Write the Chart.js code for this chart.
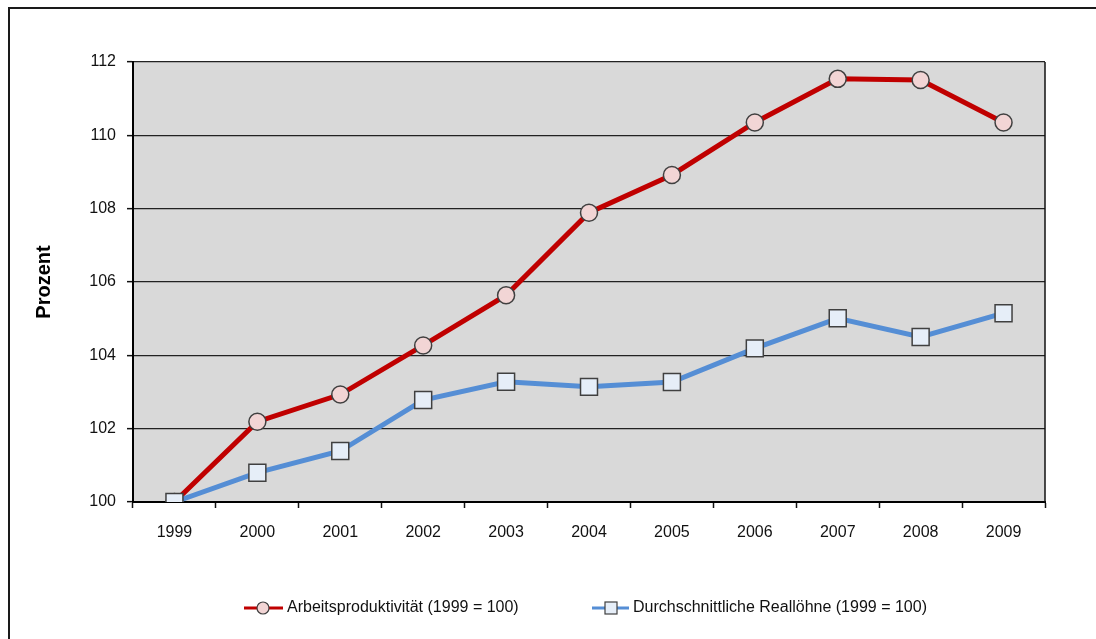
<!DOCTYPE html>
<html>
<head>
<meta charset="utf-8">
<script src="https://cdn.jsdelivr.net/npm/chart.js@4/dist/chart.umd.min.js"></script>
<style>
  body { margin: 0; background: #fff; }
</style>
</head>
<body>
<canvas id="chart" width="1096" height="639"></canvas>
<script>
// ----------- Data -----------
const years = ["1999","2000","2001","2002","2003","2004","2005","2006","2007","2008","2009"];
const produktivitaet = [100, 102.19, 102.93, 104.27, 105.64, 107.89, 108.92, 110.35, 111.54, 111.51, 110.35];
const reallohne = [100, 100.80, 101.39, 102.78, 103.28, 103.14, 103.27, 104.19, 105.01, 104.50, 105.15];
const yTicks = [100, 102, 104, 106, 108, 110, 112];

const labelProd = "Arbeitsproduktivität (1999 = 100)";
const labelLohn = "Durchschnittliche Reallöhne (1999 = 100)";

const FONT = "Liberation Sans, Arial, sans-serif";

// ----------- Frame, plot background, legend -----------
const decor = {
    id: "decor",
    beforeDraw(chart) {
        const { ctx, chartArea: a } = chart;
        ctx.save();
        ctx.fillStyle = "#d9d9d9";
        ctx.fillRect(a.left, a.top, a.right - a.left, a.bottom - a.top);
        ctx.restore();
    },
    afterDatasetsDraw(chart) {
        const { ctx, chartArea: a } = chart;
        ctx.save();
        // right edge of plot
        ctx.strokeStyle = "#111";
        ctx.lineWidth = 1.5;
        ctx.beginPath();
        ctx.moveTo(a.right, a.top);
        ctx.lineTo(a.right, a.bottom);
        ctx.stroke();
        // outer frame
        ctx.strokeStyle = "#1a1a1a";
        ctx.lineWidth = 2;
        ctx.strokeRect(9, 8, 1200, 800);

        // legend
        const ly = 608;
        ctx.lineWidth = 3;
        ctx.strokeStyle = "#c00000";
        ctx.beginPath(); ctx.moveTo(244, ly); ctx.lineTo(283, ly); ctx.stroke();
        ctx.fillStyle = "#f2d5d5";
        ctx.strokeStyle = "#404040";
        ctx.lineWidth = 1.2;
        ctx.beginPath(); ctx.arc(263, ly, 6, 0, Math.PI * 2); ctx.fill(); ctx.stroke();

        ctx.lineWidth = 3;
        ctx.strokeStyle = "#558ed5";
        ctx.beginPath(); ctx.moveTo(592, ly); ctx.lineTo(629, ly); ctx.stroke();
        ctx.fillStyle = "#e6eef8";
        ctx.strokeStyle = "#404040";
        ctx.lineWidth = 1.2;
        ctx.fillRect(605, ly - 6, 12, 12);
        ctx.strokeRect(605, ly - 6, 12, 12);

        ctx.fillStyle = "#111";
        ctx.font = "16px " + FONT;
        ctx.textBaseline = "middle";
        ctx.textAlign = "left";
        ctx.fillText(labelProd, 287, ly);
        ctx.fillText(labelLohn, 633, ly);
        ctx.restore();
    }
};

// ----------- Chart -----------
new Chart(document.getElementById("chart"), {
    type: "line",
    data: {
        labels: years,
        datasets: [{
            label: labelLohn,
            data: reallohne,
            order: 0,
            borderColor: "#558ed5",
            borderWidth: 5,
            pointStyle: "rect",
            pointRadius: 12,
            pointBackgroundColor: "#e6eef8",
            pointBorderColor: "#404040",
            pointBorderWidth: 1.5,
            tension: 0
        }, {
            label: labelProd,
            data: produktivitaet,
            order: 1,
            borderColor: "#c00000",
            borderWidth: 5,
            pointStyle: "circle",
            pointRadius: 8.5,
            pointBackgroundColor: "#f2d5d5",
            pointBorderColor: "#404040",
            pointBorderWidth: 1.5,
            tension: 0
        }]
    },
    options: {
        responsive: false,
        animation: false,
        layout: { padding: { top: 62, right: 51, left: 0, bottom: 0 } },
        plugins: {
            legend: { display: false },
            tooltip: { enabled: false }
        },
        scales: {
            x: {
                offset: true,
                afterFit: s => { s.height = 137; },
                grid: { offset: true, drawOnChartArea: false, color: "#111", tickLength: 6, tickWidth: 1.5 },
                border: { color: "#000", width: 2 },
                ticks: { color: "#111", font: { family: FONT, size: 16 }, padding: 15, maxRotation: 0 }
            },
            y: {
                min: 100,
                max: 112,
                afterFit: s => { s.width = 133; },
                afterBuildTicks: s => { s.ticks = yTicks.map(v => ({ value: v })); },
                grid: { color: "#222", lineWidth: 1.3, tickLength: 6, tickColor: "#111", tickWidth: 1.5 },
                border: { color: "#000", width: 2 },
                ticks: { color: "#111", font: { family: FONT, size: 16 }, padding: 11 },
                title: {
                    display: true,
                    text: "Prozent",
                    color: "#000",
                    font: { family: FONT, size: 20, weight: "bold" },
                    padding: { top: 32, bottom: 0 }
                }
            }
        }
    },
    plugins: [decor]
});
</script>
</body>
</html>
